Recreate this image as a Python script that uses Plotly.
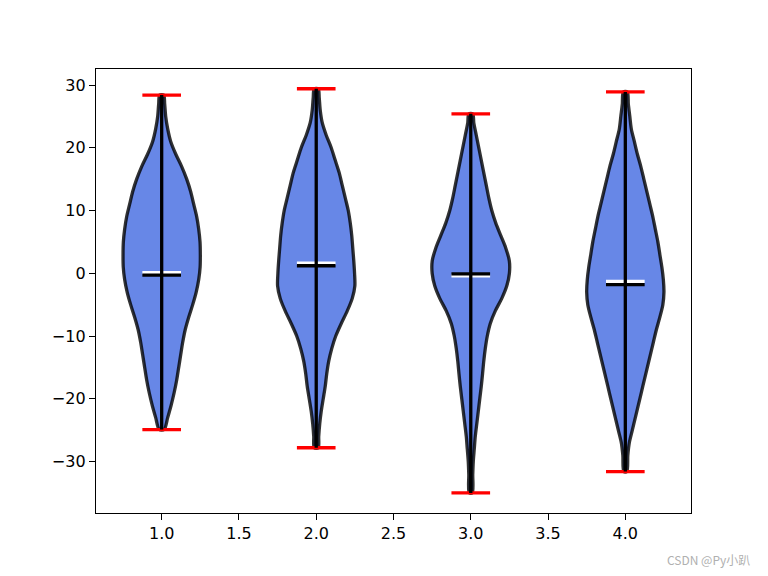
import plotly.graph_objects as go

# ---- data ----
positions = [1, 2, 3, 4]

# density profiles (value, relative half-width) for each violin
vals1 = [28.4, 27, 25, 23, 21, 19, 17, 15, 13, 11, 9, 7, 5, 3, 1, -1, -3, -5, -7, -9, -11, -13, -15, -17, -19, -21, -23, -24.9]
dens1 = [2, 3, 4, 6, 9, 14, 20, 25, 29, 32, 35, 37, 38.3, 38.6, 38.4, 37, 34.5, 31, 27, 23.5, 21, 19, 17, 15, 12.5, 9.5, 6, 2.5]

vals2 = [29.4, 28, 26, 24, 22, 20, 18, 16, 14, 12, 10, 8, 6, 4, 2, 0, -2, -4, -6, -8, -10, -12, -14, -16, -18, -20, -22, -24, -26, -27.8]
dens2 = [2, 3, 4, 6, 10, 15, 19, 23, 26, 29, 32, 34, 35.5, 36.5, 37.5, 38.3, 38.6, 36, 31, 25, 19.5, 15.5, 12.5, 10.5, 9, 7, 5, 3.5, 2.5, 2]

vals3 = [25.4, 24, 22, 20, 18, 16, 14, 12, 10, 8, 6, 4, 2, 0, -2, -4, -6, -8, -10, -12, -14, -16, -18, -20, -22, -24, -26, -28, -30, -32, -35]
dens3 = [2, 3, 5.5, 8, 10.5, 13, 15.5, 18, 21, 25, 30, 35, 38.5, 38.6, 36, 31, 24.5, 19.5, 16.5, 14.5, 13, 11.8, 10.5, 9, 7.5, 6, 4.5, 3.5, 2.5, 2, 1.5]

vals4 = [28.9, 27, 25, 23, 21, 19, 17, 15, 13, 11, 9, 7, 5, 3, 1, -1, -3, -5, -7, -9, -11, -13, -15, -17, -19, -21, -23, -25, -27, -29, -31.6]
dens4 = [2, 3, 4.5, 6, 9, 12, 15.5, 18.5, 21.5, 24.5, 27.5, 30, 32.5, 34.5, 36.5, 38, 38.6, 37.5, 34.5, 31, 28, 25, 22, 19, 16, 13, 10, 7, 4, 2.5, 1.5]

mins = [-24.9, -27.8, -35.0, -31.6]
maxs = [28.4, 29.4, 25.4, 28.9]
means = [0.1, 1.6, -0.4, -1.3]
medians = [-0.3, 1.2, -0.1, -1.8]

xticks = [1.0, 1.5, 2.0, 2.5, 3.0, 3.5, 4.0]
yticks = [-30, -20, -10, 0, 10, 20, 30]

# ---- styling ----
width = 0.5
half = width / 2
cap = width / 4
fill_col = "rgba(65,105,225,0.8)"
edge_col = "rgba(0,0,0,0.8)"
lw = 3.3

fig = go.Figure()

profiles = [(vals1, dens1), (vals2, dens2), (vals3, dens3), (vals4, dens4)]
for pos, (vals, dens) in zip(positions, profiles):
    m = max(dens)
    rel = [d / m * half for d in dens]
    xs = [pos + r for r in rel] + [pos - r for r in reversed(rel)] + [pos + rel[0]]
    ys = list(vals) + list(reversed(vals)) + [vals[0]]
    fig.add_trace(go.Scatter(x=xs, y=ys, mode="lines", fill="toself",
                             fillcolor=fill_col,
                             line=dict(color=edge_col, width=lw, shape="spline", smoothing=0.8),
                             hoverinfo="skip", showlegend=False))

def hlines(vals_, color):
    xs, ys = [], []
    for pos, v in zip(positions, vals_):
        xs += [pos - cap, pos + cap, None]
        ys += [v, v, None]
    fig.add_trace(go.Scatter(x=xs, y=ys, mode="lines", line=dict(color=color, width=lw),
                             hoverinfo="skip", showlegend=False))

hlines(means, "white")
hlines(maxs, "red")
hlines(mins, "red")

bx, by = [], []
for pos, lo, hi in zip(positions, mins, maxs):
    bx += [pos, pos, None]
    by += [lo, hi, None]
fig.add_trace(go.Scatter(x=bx, y=by, mode="lines", line=dict(color="black", width=lw),
                         hoverinfo="skip", showlegend=False))
hlines(medians, "black")

axis_common = dict(showline=True, linecolor="black", linewidth=1.33, mirror=True,
                   ticks="outside", ticklen=6, tickwidth=1.33, tickcolor="black",
                   showgrid=False, zeroline=False,
                   tickfont=dict(family="DejaVu Sans", size=16, color="black"))

fig.update_layout(
    width=768, height=576,
    margin=dict(l=96, r=77, t=69, b=63),
    paper_bgcolor="white", plot_bgcolor="white",
    xaxis=dict(range=[0.575, 4.425], tickvals=xticks,
               ticktext=[f"{t:.1f}" for t in xticks], **axis_common),
    yaxis=dict(range=[-38.2, 32.55], tickvals=yticks, **axis_common),
    annotations=[dict(text="CSDN @Py小趴", xref="paper", yref="paper",
                      x=1.1025, y=-0.104, xanchor="right", yanchor="middle",
                      showarrow=False,
                      font=dict(family="Noto Sans CJK SC", size=12, color="#b0b0b0"))],
)

fig.write_html("out.html")
